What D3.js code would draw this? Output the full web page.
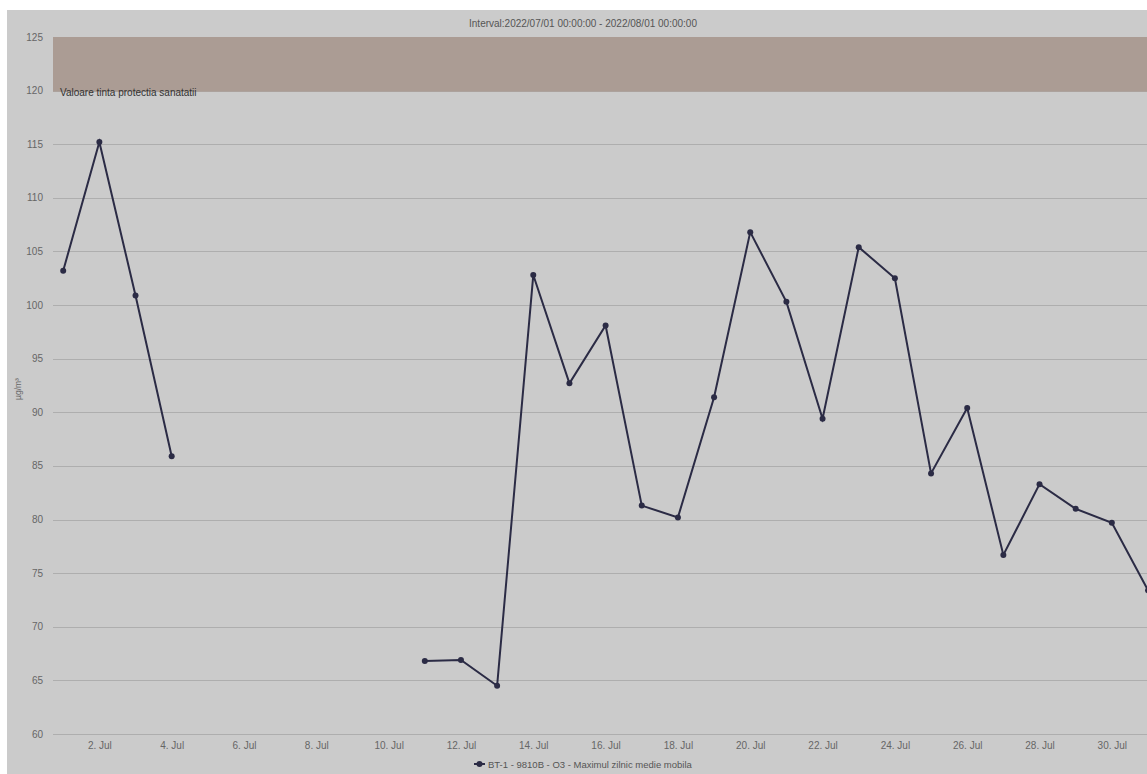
<!DOCTYPE html>
<html>
<head>
	<title>O3 - Maximul zilnic medie mobila</title>
	<script src="https://d3js.org/d3.v7.min.js"></script>
	<style>
		body { margin: 0; background: #fff; }
		svg { display: block; font-family: "Liberation Sans", Arial, sans-serif; }
	</style>
</head>
<body>
	<script type="text/javascript">
		// Days of July 2022 and the daily max of the moving average (null = no data)
		var days = [1, 2, 3, 4, 5, 6, 7, 8, 9, 10, 11, 12, 13, 14, 15, 16, 17, 18, 19, 20, 21, 22, 23, 24, 25, 26, 27, 28, 29, 30, 31];
		var values = [103.2, 115.2, 100.9, 85.9, null, null, null, null, null, null, 66.8, 66.9, 64.5, 102.8, 92.7, 98.1, 81.3, 80.2, 91.4, 106.8, 100.3, 89.4, 105.4, 102.5, 84.3, 90.4, 76.7, 83.3, 81.0, 79.7, 73.4];
		var yTicks = [60, 65, 70, 75, 80, 85, 90, 95, 100, 105, 110, 115, 120, 125];
		var xTickDays = [2, 4, 6, 8, 10, 12, 14, 16, 18, 20, 22, 24, 26, 28, 30];
		var band = [120, 125];
		var bandLabel = "Valoare tinta protectia sanatatii";
		var title = "Interval:2022/07/01 00:00:00 - 2022/08/01 00:00:00";
		var seriesName = "BT-1 - 9810B - O3 - Maximul zilnic medie mobila";

		var width = 1147;
		var height = 774;
		var plotLeft = 53, plotTop = 37, plotBottom = 734, plotRight = 1170;

		function day(d) { return new Date(2022, 6, d); }

		var data = days.map(function(d, i) {
			return { date: day(d), value: values[i] };
		});

		var xScale = d3.scaleTime()
					   .domain([day(1), day(31)])
					   .range([63.2, 1148]);

		var yScale = d3.scaleLinear()
					   .domain([60, 125])
					   .range([plotBottom, plotTop]);

		var svg = d3.select("body")
					.append("svg")
					.attr("width", width)
					.attr("height", height);

		// grey chart background (white strip at top and left as in the screenshot)
		svg.append("rect")
		   .attr("x", 7).attr("y", 10)
		   .attr("width", width - 7).attr("height", height - 10)
		   .attr("fill", "#cbcbcb");

		// horizontal grid lines
		svg.append("g")
		   .selectAll("line")
		   .data(yTicks)
		   .enter()
		   .append("line")
		   .attr("x1", plotLeft)
		   .attr("x2", plotRight)
		   .attr("y1", function(d) { return Math.round(yScale(d)) + 0.5; })
		   .attr("y2", function(d) { return Math.round(yScale(d)) + 0.5; })
		   .attr("stroke", "#aeaeae")
		   .attr("stroke-width", 1.2);

		// target band 120 - 125
		svg.append("rect")
		   .attr("x", plotLeft)
		   .attr("y", yScale(band[1]))
		   .attr("width", plotRight - plotLeft)
		   .attr("height", yScale(band[0]) - yScale(band[1]) + 1)
		   .attr("fill", "#ab9c94");

		svg.append("text")
		   .attr("x", plotLeft + 7)
		   .attr("y", yScale(band[0]) + 5.5)
		   .attr("font-size", 10)
		   .attr("fill", "#333")
		   .text(bandLabel);

		// y tick labels
		svg.append("g")
		   .selectAll("text")
		   .data(yTicks)
		   .enter()
		   .append("text")
		   .attr("x", 43)
		   .attr("y", function(d) { return yScale(d) + 3.5; })
		   .attr("text-anchor", "end")
		   .attr("font-size", 10)
		   .attr("fill", "#666")
		   .text(function(d) { return d; });

		// y axis title
		svg.append("text")
		   .attr("transform", "translate(21," + 389 + ") rotate(-90)")
		   .attr("text-anchor", "middle")
		   .attr("font-size", 8.5)
		   .attr("fill", "#666")
		   .text("µg/m³");

		// x axis labels
		var xAxis = d3.axisBottom(xScale)
					  .tickValues(xTickDays.map(day))
					  .tickFormat(d3.timeFormat("%-d. %b"))
					  .tickSize(0)
					  .tickPadding(8);

		var gx = svg.append("g")
					.attr("transform", "translate(0," + plotBottom + ")")
					.call(xAxis);
		gx.select(".domain").remove();
		gx.selectAll("text")
		  .attr("font-size", 10)
		  .attr("font-family", "Liberation Sans, Arial, sans-serif")
		  .attr("fill", "#666");

		// series line with gaps for missing days
		var line = d3.line()
					 .defined(function(d) { return d.value !== null; })
					 .x(function(d) { return xScale(d.date); })
					 .y(function(d) { return yScale(d.value); });

		svg.append("path")
		   .datum(data)
		   .attr("d", line)
		   .attr("fill", "none")
		   .attr("stroke", "#2b2b45")
		   .attr("stroke-width", 2);

		svg.append("g")
		   .selectAll("circle")
		   .data(data.filter(function(d) { return d.value !== null; }))
		   .enter()
		   .append("circle")
		   .attr("cx", function(d) { return xScale(d.date); })
		   .attr("cy", function(d) { return yScale(d.value); })
		   .attr("r", 3)
		   .attr("fill", "#2b2b45");

		// title
		svg.append("text")
		   .attr("x", 583)
		   .attr("y", 27)
		   .attr("text-anchor", "middle")
		   .attr("font-size", 10)
		   .attr("fill", "#555")
		   .text(title);

		// legend
		var legend = svg.append("g").attr("transform", "translate(474,764)");
		legend.append("line")
			  .attr("x1", 0).attr("x2", 11)
			  .attr("y1", 0).attr("y2", 0)
			  .attr("stroke", "#2b2b45")
			  .attr("stroke-width", 2);
		legend.append("circle")
			  .attr("cx", 5.5).attr("cy", 0).attr("r", 3)
			  .attr("fill", "#2b2b45");
		legend.append("text")
			  .attr("x", 14).attr("y", 3.5)
			  .attr("font-size", 9.5)
			  .attr("fill", "#555")
			  .text(seriesName);

	</script>
</body>
</html>
